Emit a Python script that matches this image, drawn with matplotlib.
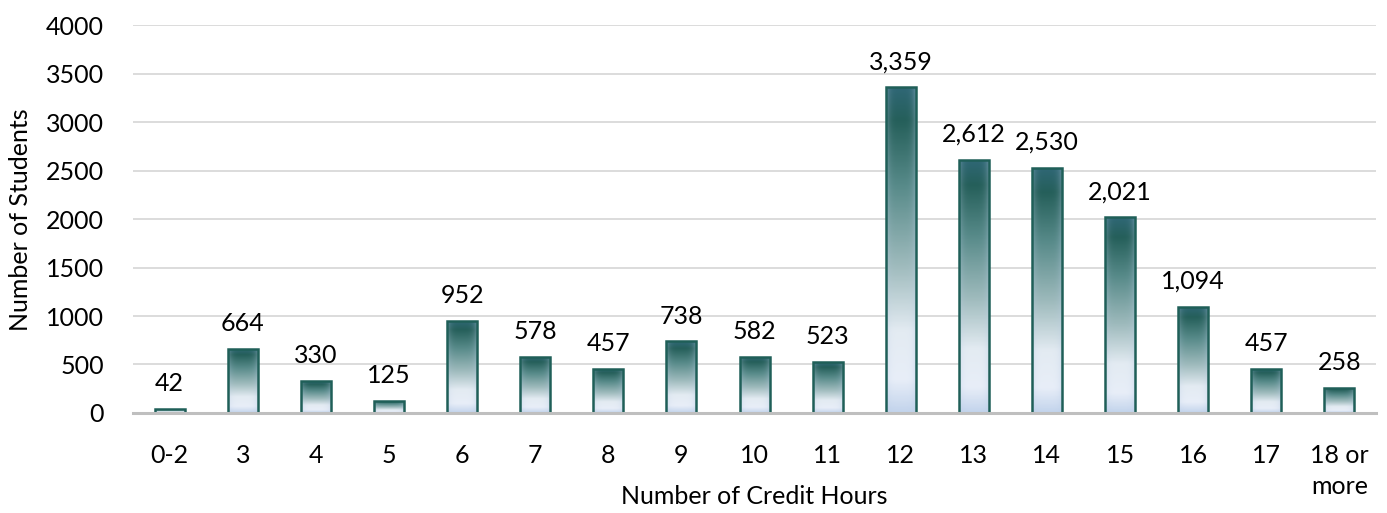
import numpy as np
import matplotlib.pyplot as plt
from matplotlib.colors import LinearSegmentedColormap, to_rgb

categories = ['0-2', '3', '4', '5', '6', '7', '8', '9', '10', '11',
              '12', '13', '14', '15', '16', '17', '18 or\nmore']
students = [42, 664, 330, 125, 952, 578, 457, 738, 582, 523,
            3359, 2612, 2530, 2021, 1094, 457, 258]
y_ticks = [0, 500, 1000, 1500, 2000, 2500, 3000, 3500, 4000]

plt.rcParams['font.family'] = ['Lato', 'DejaVu Sans']
fs = 18

fig = plt.figure(figsize=(13.87, 5.13), dpi=100)
ax = fig.add_axes([0.096, 0.195, 0.896, 0.756])

# vertical gradient: dark teal on top, pale blue-white near the bottom
cmap = LinearSegmentedColormap.from_list('bar', [
    (0.0, '#c3d4ec'),
    (0.1, '#e8eef8'),
    (0.25, '#e3ebf2'),
    (0.45, '#9fbbbd'),
    (0.7, '#578a89'),
    (0.9, '#255f5a'),
    (1.0, '#2f6775'),
])
edge_blue = np.array(to_rgb('#b9cbe6'))
n = 200
vert = cmap(np.linspace(0, 1, n))[:, :3][::-1]
hx = np.abs(np.linspace(-1, 1, 40)) ** 4
img = vert[:, None, :] * (1 - 0.35 * hx[None, :, None]) + edge_blue * 0.35 * hx[None, :, None]

x = np.arange(len(categories))
width = 0.41
bars = ax.bar(x, students, width, color='none', edgecolor='#1f5f58', linewidth=1.8, zorder=3)
for b, v in zip(bars, students):
    im = ax.imshow(img, extent=[b.get_x(), b.get_x() + width, 0, v],
                   aspect='auto', zorder=2, interpolation='bilinear')
    im.set_clip_path(b)
    ax.annotate(f'{v:,}', (b.get_x() + width / 2, v), xytext=(0, 10),
                textcoords='offset points', ha='center', va='bottom',
                fontsize=fs, color='black')

ax.set_xlim(-0.5, len(categories) - 0.5)
ax.set_ylim(0, 4000)
ax.set_yticks(y_ticks)
ax.set_xticks(x)
ax.set_xticklabels(categories, fontsize=fs, linespacing=1.45, va='top')
ax.tick_params(axis='y', labelsize=fs, length=0, pad=21)
ax.tick_params(axis='x', length=0, pad=22)
ax.yaxis.grid(True, color='#d9d9d9', linewidth=1.3)
ax.set_axisbelow(True)
for s in ['top', 'right', 'left']:
    ax.spines[s].set_visible(False)
ax.spines['bottom'].set_color('#bfbfbf')
ax.spines['bottom'].set_linewidth(2.2)
ax.spines['bottom'].set_zorder(4)

fig.text(21 / 1387, 1 - 220 / 513, 'Number of Students', rotation=90,
         ha='center', va='center', fontsize=fs)
fig.text(754 / 1387, 1 - 497 / 513, 'Number of Credit Hours',
         ha='center', va='center', fontsize=fs)

fig.savefig('out.png', dpi=100)
